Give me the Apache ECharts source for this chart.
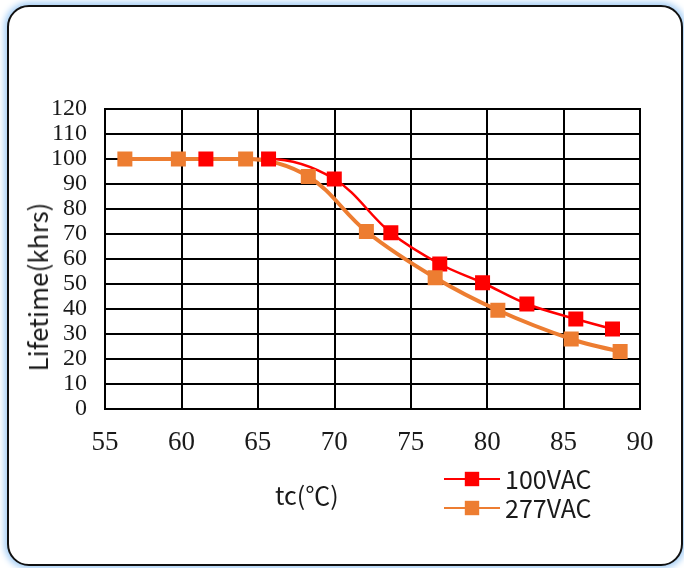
<!DOCTYPE html>
<html>
<head>
<meta charset="utf-8">
<script src="https://cdn.jsdelivr.net/npm/echarts@6/dist/echarts.min.js"></script>
<style>
  html, body { margin:0; padding:0; width:684px; height:568px; background:#fff; overflow:hidden; }
  #card { position:absolute; left:7px; top:5px; width:676px; height:561px; box-sizing:border-box;
          border:2px solid #111; border-radius:22px; box-shadow:0 0 6px 3px #a8d0f6; background:#fff; }
  #chart { position:absolute; left:0; top:0; width:684px; height:568px; }
  .axname { position:absolute; font-family:"Noto Sans CJK SC","Noto Sans",sans-serif; color:#1a1a1a;
            white-space:nowrap; line-height:30px; }
  #xname { left:275px; top:479px; font-size:25px; }
  #yname { left:37px; top:287px; font-size:26px; transform:translate(-50%,-50%) rotate(-90deg); }
</style>
</head>
<body>
<div id="card"></div>
<div id="chart"></div>
<div id="xname" class="axname"></div>
<div id="yname" class="axname"></div>
<script>
// ---- data ----
const seriesNames = ['100VAC', '277VAC'];
const tc100   = [61.6, 65.7, 70.0, 73.7, 76.9, 79.7, 82.6, 85.8, 88.2];
const life100 = [100, 100, 92, 70.5, 58, 50.5, 42, 36, 32];
const tc277   = [56.3, 59.8, 64.2, 68.3, 72.1, 76.6, 80.7, 85.5, 88.7];
const life277 = [100, 100, 100, 93, 71, 52.5, 39.5, 28, 23];
const xTicks = [55, 60, 65, 70, 75, 80, 85, 90];
const yTicks = [0, 10, 20, 30, 40, 50, 60, 70, 80, 90, 100, 110, 120];
const xName = 'tc(℃)';
const yName = 'Lifetime(khrs)';

const zip = (a, b) => a.map((v, i) => [v, b[i]]);
const serif = 'Liberation Serif';
const sans = 'Noto Sans CJK SC';

const chart = echarts.init(document.getElementById('chart'));
chart.setOption({
  backgroundColor: 'transparent',
  animation: false,
  grid: { left: 105, top: 109, width: 535, height: 300, show: true,
          borderColor: '#000', borderWidth: 2, backgroundColor: 'transparent' },
  xAxis: {
    type: 'value', min: xTicks[0], max: xTicks[xTicks.length - 1], interval: 5,
    axisLine: { show: true, lineStyle: { color: '#000', width: 2 } },
    axisTick: { show: false },
    splitLine: { show: true, lineStyle: { color: '#000', width: 2 } },
    axisLabel: { fontFamily: serif, fontSize: 27, color: '#1a1a1a', margin: 20 }
  },
  yAxis: {
    type: 'value', min: yTicks[0], max: yTicks[yTicks.length - 1], interval: 10,
    axisLine: { show: true, lineStyle: { color: '#000', width: 2 } },
    axisTick: { show: false },
    splitLine: { show: true, lineStyle: { color: '#000', width: 2 } },
    axisLabel: { fontFamily: serif, fontSize: 24, color: '#1a1a1a', margin: 18 }
  },
  legend: {
    orient: 'vertical', left: 443, top: 466, padding: 0, itemWidth: 56, itemHeight: 18, itemGap: 3,
    textStyle: { fontFamily: sans, fontSize: 25, lineHeight: 26, color: '#1a1a1a' },
    data: seriesNames
  },
  series: [
    { name: seriesNames[0], type: 'line', data: zip(tc100, life100), smooth: 0.35,
      symbol: 'rect', symbolSize: 15, color: '#ff0000',
      lineStyle: { color: '#ff0000', width: 2.5 }, itemStyle: { color: '#ff0000' } },
    { name: seriesNames[1], type: 'line', data: zip(tc277, life277), smooth: 0.35,
      symbol: 'rect', symbolSize: 15, color: '#ed7d31',
      lineStyle: { color: '#ed7d31', width: 4 }, itemStyle: { color: '#ed7d31' } }
  ]
});
try {
  chart.convertToPixel({gridIndex: 0}, [xTicks[0], yTicks[0]]);
  chart.getModel().getComponent('grid', 0).coordinateSystem.getRect();
} catch (e) {}
document.getElementById('xname').textContent = xName;
document.getElementById('yname').textContent = yName;
</script>
</body>
</html>
